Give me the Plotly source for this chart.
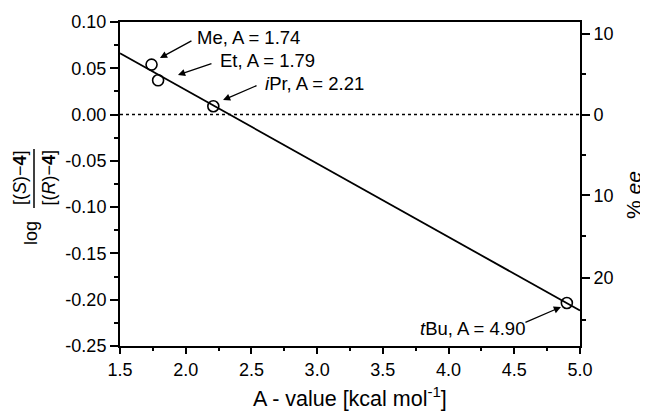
import numpy as np
import plotly.graph_objects as go

# ---- data ----
a_values = [1.74, 1.79, 2.21, 4.90]
log_ratio = [0.054, 0.037, 0.009, -0.2035]
labels = ["Me, A = 1.74", "Et, A = 1.79", "<i>i</i>Pr, A = 2.21", "<i>t</i>Bu, A = 4.90"]
x_range = [1.5, 5.0]
y_range = [-0.25, 0.10]
x_ticks = [1.5, 2.0, 2.5, 3.0, 3.5, 4.0, 4.5, 5.0]
y_ticks = [0.10, 0.05, 0.00, -0.05, -0.10, -0.15, -0.20, -0.25]
y_ticklabels = ["0.10", "0.05", "0.00", "-0.05", "-0.10", "-0.15", "-0.20", "-0.25"]
ee_major = [10, 0, -10, -20]
ee_minor = [5, -5, -15, -25]

def ee_to_log(ee):
    return float(np.log10((100 + ee) / (100 - ee)))

slope, intercept = np.polyfit(a_values, log_ratio, 1)
fit_x = np.array(x_range)
fit_y = slope * fit_x + intercept

FONT = "Liberation Sans, Arial, sans-serif"

fig = go.Figure()
fig.add_trace(go.Scatter(x=x_range, y=[0, 0], mode="lines",
                         line=dict(color="black", width=1.5, dash="dot"),
                         showlegend=False, hoverinfo="skip"))
fig.add_trace(go.Scatter(x=fit_x, y=fit_y, mode="lines",
                         line=dict(color="black", width=1.8),
                         showlegend=False))
fig.add_trace(go.Scatter(x=a_values, y=log_ratio, mode="markers",
                         marker=dict(symbol="circle-open", size=11, color="black",
                                     line=dict(width=1.6, color="black")),
                         showlegend=False))
# invisible trace for right axis
fig.add_trace(go.Scatter(x=x_range, y=y_range, yaxis="y2", mode="markers",
                         marker=dict(opacity=0), showlegend=False, hoverinfo="skip"))

OFF = 8  # page body margin
W, H = 648 - OFF, 412 - OFF
L, R, T, B = 120 - OFF, 68, 22 - OFF, 66
pw, ph = W - L - R, H - T - B

def px2paper(px, py):
    px -= OFF
    py -= OFF
    return (px - L) / pw, (H - B - py) / ph

TICKFONT = dict(size=18)

fig.update_layout(
    width=W, height=H,
    margin=dict(l=L, r=R, t=T, b=B, autoexpand=False),
    paper_bgcolor="white", plot_bgcolor="white",
    font=dict(family=FONT, size=18, color="black"),
    xaxis=dict(range=x_range, tickmode="array", tickvals=x_ticks,
               ticktext=[f"{v:.1f}" for v in x_ticks],
               showgrid=False, zeroline=False,
               showline=True, linecolor="black", linewidth=2, mirror=True,
               ticks="outside", ticklen=6, tickwidth=1.5, tickcolor="black",
               minor=dict(dtick=0.25, tick0=1.5, ticks="outside", ticklen=3,
                          tickwidth=1.5, tickcolor="black", showgrid=False),
               tickfont=TICKFONT),
    yaxis=dict(range=y_range, tickmode="array", tickvals=y_ticks, ticktext=y_ticklabels,
               showgrid=False, zeroline=False,
               showline=True, linecolor="black", linewidth=2,
               ticks="outside", ticklen=8, tickwidth=1.5, tickcolor="black",
               minor=dict(dtick=0.025, tick0=0, ticks="outside", ticklen=4,
                          tickwidth=1.5, tickcolor="black", showgrid=False),
               tickfont=TICKFONT),
    yaxis2=dict(range=y_range, overlaying="y", side="right",
                tickmode="array",
                tickvals=[ee_to_log(e) for e in ee_major],
                ticktext=[str(abs(e)) for e in ee_major],
                showgrid=False, zeroline=False,
                showline=True, linecolor="black", linewidth=2,
                ticks="outside", ticklen=8, tickwidth=1.5, tickcolor="black",
                minor=dict(tickmode="array", tickvals=[ee_to_log(e) for e in ee_minor],
                           ticks="outside", ticklen=4, tickwidth=1.5, tickcolor="black",
                           showgrid=False),
                tickfont=TICKFONT),
)

anns = []
# arrows (head in data coords, tail offset in pixels)
arrow_heads = [(1.804, 0.0611, 33, -18), (1.941, 0.0427, 35, -12),
               (2.284, 0.0157, 35, -15), (4.855, -0.2079, -37, 16)]
for hx, hy, ax, ay in arrow_heads:
    anns.append(dict(x=hx, y=hy, xref="x", yref="y", text="", showarrow=True,
                     ax=ax, ay=ay, arrowhead=2, arrowsize=1.1, arrowwidth=1.3,
                     arrowcolor="black"))
# label texts
text_pos = [(2.071, 0.0838, "left"), (2.246, 0.0589, "left"),
            (2.588, 0.0341, "left"), (4.597, -0.2306, "right")]
for (tx, ty, anc), lab in zip(text_pos, labels):
    anns.append(dict(x=tx, y=ty, xref="x", yref="y", text=lab, showarrow=False,
                     xanchor=anc, yanchor="middle", font=dict(size=18.5)))

# x-axis title
xx, yy = px2paper(350, 397)
anns.append(dict(x=xx, y=yy, xref="paper", yref="paper",
                 text="A - value [kcal mol<sup>-1</sup>]", showarrow=False,
                 xanchor="center", yanchor="middle", font=dict(size=21.5)))
# left title as fraction
nx, ny = px2paper(20, 178)
anns.append(dict(x=nx, y=ny, xref="paper", yref="paper", textangle=-90,
                 text="[(<i>S</i>)\u2212<b>4</b>]", showarrow=False,
                 xanchor="center", yanchor="middle", font=dict(size=18)))
dx, dy = px2paper(48.5, 178)
anns.append(dict(x=dx, y=dy, xref="paper", yref="paper", textangle=-90,
                 text="[(<i>R</i>)\u2212<b>4</b>]", showarrow=False,
                 xanchor="center", yanchor="middle", font=dict(size=18)))
lx, ly = px2paper(31, 233)
anns.append(dict(x=lx, y=ly, xref="paper", yref="paper", textangle=-90,
                 text="log", showarrow=False,
                 xanchor="center", yanchor="middle", font=dict(size=18)))
# right title
rx, ry = px2paper(634, 195)
anns.append(dict(x=rx, y=ry, xref="paper", yref="paper", textangle=-90,
                 text="% <i>ee</i>", showarrow=False,
                 xanchor="center", yanchor="middle", font=dict(size=21)))
fig.update_layout(annotations=anns)

x0, y0 = px2paper(34, 149)
x1, y1 = px2paper(34, 208)
fig.add_shape(type="line", xref="paper", yref="paper", x0=x0, x1=x1, y0=y0, y1=y1,
              line=dict(color="black", width=1.5))

fig.write_html("out.html")
